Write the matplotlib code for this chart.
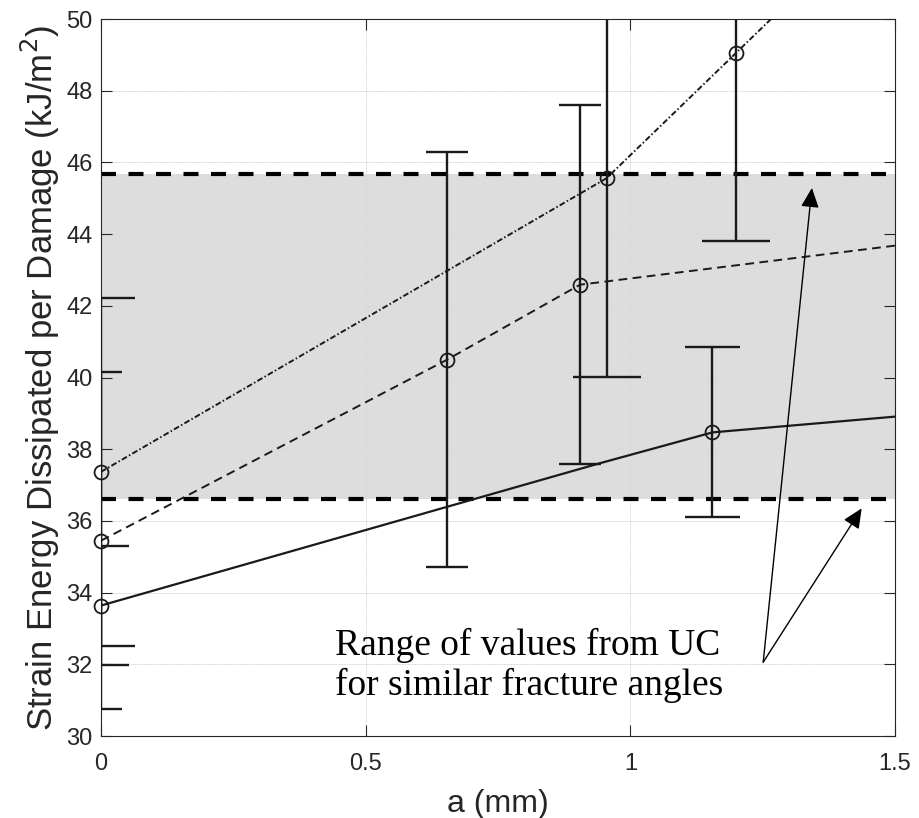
import numpy as np
import matplotlib
matplotlib.use('Agg')
import matplotlib.pyplot as plt

# Dash-dot series
x_dd = [0, 0.955, 1.2, 1.5]
y_dd = [37.37, 45.56, 49.06, 53.35]
e_dd = [4.85, 5.55, 5.25]

# Dashed series
x_da = [0, 0.654, 0.905, 1.5]
y_da = [35.45, 40.5, 42.59, 43.68]
e_da = [4.7, 5.78, 5.0]

# Solid series (kink at 0.94 has no marker)
x_so = [0, 0.94, 1.155, 1.5]
y_so = [33.64, 37.6, 38.47, 38.91]
mark_so = [0, 2]
e_so = [1.65, 2.37]

# UC range band
band_lo = 36.6
band_hi = 45.68

plt.rcParams['font.family'] = ['Liberation Sans', 'DejaVu Sans']

fig = plt.figure(figsize=(9.19, 8.18), dpi=100)
ax = fig.add_axes([0.1099, 0.1002, 0.864, 0.8765])

ax.fill_between([0, 1.5], band_lo, band_hi, color='#dddddd', zorder=0, lw=0)
for yb in (band_lo, band_hi):
    ax.plot([0, 1.495], [yb, yb], color='k', lw=3, dashes=(3.6, 3.0), zorder=2)

k = '#1a1a1a'
# error bars
ax.errorbar(x_dd[:3], y_dd[:3], yerr=e_dd, fmt='none', ecolor=k, elinewidth=1.7,
            capsize=24.5, capthick=1.7, zorder=3)
ax.errorbar(x_da[:3], y_da[:3], yerr=e_da, fmt='none', ecolor=k, elinewidth=1.7,
            capsize=15, capthick=1.7, zorder=3)
ax.errorbar([x_so[i] for i in mark_so], [y_so[i] for i in mark_so], yerr=e_so,
            fmt='none', ecolor=k, elinewidth=1.7, capsize=19.8, capthick=1.7, zorder=3)

# lines
ax.plot(x_dd, y_dd, color=k, lw=1.4, dashes=(3, 1.2, 0.8, 1.2), zorder=4)
ax.plot(x_da, y_da, color=k, lw=1.4, dashes=(4.5, 2.8), zorder=4)
ax.plot(x_so, y_so, color=k, lw=1.6, zorder=4)

# circle markers (not clipped at the axis edge)
mk = dict(ls='none', marker='o', ms=10, mfc='none', mec=k, mew=1.3,
          clip_on=False, zorder=5)
ax.plot(x_dd[:3], y_dd[:3], **mk)
ax.plot(x_da[:3], y_da[:3], **mk)
ax.plot([x_so[i] for i in mark_so], [y_so[i] for i in mark_so], **mk)

ax.set_xlim(0, 1.5)
ax.set_ylim(30, 50)
ax.set_xticks([0, 0.5, 1, 1.5])
ax.set_xticklabels(['0', '0.5', '1', '1.5'])
ax.set_yticks(np.arange(30, 51, 2))
ax.grid(True, color='#d8d8d8', lw=0.7, linestyle=(0, (1, 0.5)))
ax.set_axisbelow(True)
ax.tick_params(direction='in', length=8, width=0.8, top=True, right=True,
               labelsize=17, colors='#262626')
ax.tick_params(axis='x', pad=12)
ax.tick_params(axis='y', pad=6)
for sp in ax.spines.values():
    sp.set_color('#262626')
    sp.set_linewidth(0.8)

ax.set_xlabel('a (mm)', fontsize=23, color='#262626', labelpad=10)
ax.set_ylabel('Strain Energy Dissipated per Damage (kJ/m$^2$)', fontsize=25,
              color='#262626', labelpad=3)

ax.text(0.442, 31.14, 'Range of values from UC\nfor similar fracture angles',
        family='Liberation Serif', fontsize=27, ha='left', va='baseline',
        linespacing=1.2, zorder=6)

tail = (1.251, 32.06)
for head in [(1.343, 45.29), (1.437, 36.35)]:
    ax.annotate('', xy=head, xytext=tail,
                arrowprops=dict(arrowstyle='-|>,head_length=1.2,head_width=0.55',
                                mutation_scale=10, lw=1.0, color='k',
                                shrinkA=0, shrinkB=0), zorder=7)

fig.savefig('out.png', dpi=100)
